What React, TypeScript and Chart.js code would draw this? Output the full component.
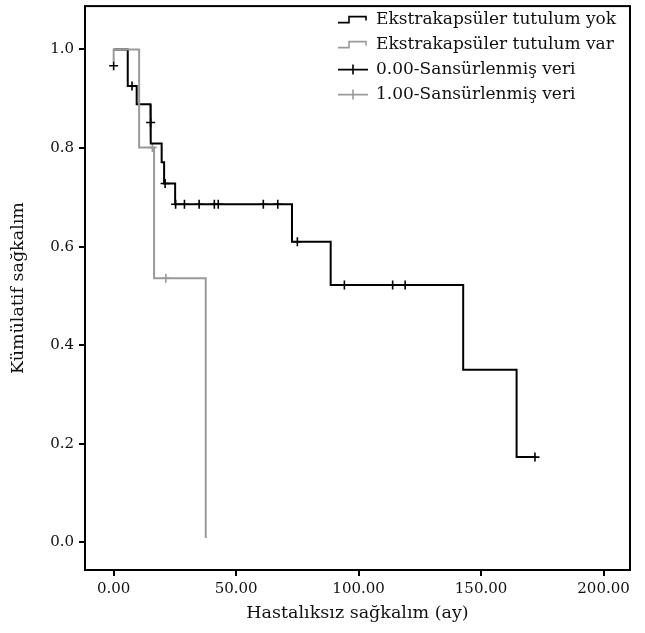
import React, { useEffect, useRef } from 'react';
import { Chart, registerables } from 'chart.js';

Chart.register(...registerables);

// ---- Data ----
const seriesNames = [
  'Ekstrakapsüler tutulum yok',
  'Ekstrakapsüler tutulum var',
  '0.00-Sansürlenmiş veri',
  '1.00-Sansürlenmiş veri',
];

// Group "yok" (black): event times and survival after each event
const yokTimes = [0, 5.75, 9.4, 15.0, 15.2, 19.6, 20.6, 25.1, 72.8, 88.6, 142.7, 164.5];
const yokSurv = [1.0, 0.926, 0.889, 0.852, 0.809, 0.771, 0.728, 0.686, 0.61, 0.522, 0.35, 0.173];
const yokEnd = 172.0;

// Group "var" (gray)
const varTimes = [0, 0, 10.4, 16.5, 37.6];
const varSurv = [0.975, 1.0, 0.801, 0.536, 0.009];

// Censored observations
const yokCensorTimes = [0, 7.5, 15.1, 21.0, 25.3, 28.9, 34.9, 41.1, 42.7, 61.1, 67.0, 75.0, 94.2, 113.9, 119.0, 172.0];
const yokCensorSurv = [0.967, 0.926, 0.852, 0.728, 0.686, 0.686, 0.686, 0.686, 0.686, 0.686, 0.686, 0.61, 0.522, 0.522, 0.522, 0.173];
const varCensorTimes = [15.8, 21.3];
const varCensorSurv = [0.801, 0.536];

const xTickValues = [0, 50, 100, 150, 200];
const xTickLabels = ['0.00', '50.00', '100.00', '150.00', '200.00'];
const yTickValues = [0, 0.2, 0.4, 0.6, 0.8, 1.0];
const yTickLabels = ['0.0', '0.2', '0.4', '0.6', '0.8', '1.0'];

const xAxisTitle = 'Hastalıksız sağkalım (ay)';
const yAxisTitle = 'Kümülatif sağkalım';

// ---- helpers ----
function stepPoints(times: number[], surv: number[], end?: number) {
  const pts: { x: number; y: number }[] = [{ x: times[0], y: surv[0] }];
  for (let i = 1; i < times.length; i++) {
    pts.push({ x: times[i], y: surv[i - 1] });
    pts.push({ x: times[i], y: surv[i] });
  }
  if (end !== undefined) pts.push({ x: end, y: surv[surv.length - 1] });
  return pts;
}
function zipPoints(xs: number[], ys: number[]) {
  return xs.map((x, i) => ({ x, y: ys[i] }));
}

const BLACK = '#000000';
const GRAY = '#9a9a9a';
const FONT = "'DejaVu Serif', 'Liberation Serif', serif";

const framePlugin = {
  id: 'frameAndLegend',
  afterDraw(chart: any) {
    const { ctx, chartArea: a } = chart;
    ctx.save();
    ctx.strokeStyle = BLACK;
    ctx.lineWidth = 2;
    ctx.strokeRect(a.left, a.top, a.right - a.left, a.bottom - a.top);

    // legend
    const symX = a.right - 292;
    const textX = a.right - 254;
    const rowY0 = a.top + 13.5;
    const rowH = 25;
    const colors = [BLACK, GRAY, BLACK, GRAY];
    ctx.font = `17px ${FONT}`;
    ctx.textBaseline = 'middle';
    ctx.textAlign = 'left';
    for (let i = 0; i < seriesNames.length; i++) {
      const y = rowY0 + rowH * i;
      ctx.strokeStyle = colors[i];
      ctx.lineWidth = 1.6;
      ctx.beginPath();
      if (i < 2) {
        ctx.moveTo(symX, y + 3);
        ctx.lineTo(symX + 11, y + 3);
        ctx.lineTo(symX + 11, y - 3);
        ctx.lineTo(symX + 28, y - 3);
        ctx.lineTo(symX + 28, y + 1);
      } else {
        ctx.moveTo(symX, y);
        ctx.lineTo(symX + 30, y);
        ctx.moveTo(symX + 15, y - 5);
        ctx.lineTo(symX + 15, y + 5);
      }
      ctx.stroke();
      ctx.fillStyle = '#111';
      ctx.fillText(seriesNames[i], textX, y);
    }
    ctx.restore();
  },
};

export default function App() {
  const canvasRef = useRef<HTMLCanvasElement | null>(null);

  useEffect(() => {
    if (!canvasRef.current) return;
    const chart = new Chart(canvasRef.current, {
      type: 'scatter',
      data: {
        datasets: [
          {
            type: 'line',
            label: seriesNames[1],
            data: stepPoints(varTimes, varSurv),
            borderColor: GRAY,
            borderWidth: 2,
            pointRadius: 0,
            showLine: true,
            tension: 0,
            fill: false,
          } as any,
          {
            type: 'line',
            label: seriesNames[0],
            data: stepPoints(yokTimes, yokSurv, yokEnd),
            borderColor: BLACK,
            borderWidth: 2,
            pointRadius: 0,
            showLine: true,
            tension: 0,
            fill: false,
          } as any,
          {
            label: seriesNames[2],
            data: zipPoints(yokCensorTimes, yokCensorSurv),
            pointStyle: 'cross',
            pointRadius: 4.5,
            pointBorderWidth: 1.6,
            borderColor: BLACK,
            backgroundColor: BLACK,
            showLine: false,
          } as any,
          {
            label: seriesNames[3],
            data: zipPoints(varCensorTimes, varCensorSurv),
            pointStyle: 'cross',
            pointRadius: 4.5,
            pointBorderWidth: 1.6,
            borderColor: GRAY,
            backgroundColor: GRAY,
            showLine: false,
          } as any,
        ],
      },
      options: {
        animation: false,
        responsive: false,
        maintainAspectRatio: false,
        events: [],
        layout: { padding: { left: 0, right: 15, top: 6, bottom: 0 } },
        plugins: {
          legend: { display: false },
          tooltip: { enabled: false },
        },
        scales: {
          x: {
            type: 'linear',
            min: -11.7,
            max: 210.8,
            afterFit: (s: any) => {
              s.height = 63;
              s.paddingLeft = 0;
              s.paddingRight = 0;
            },
            afterBuildTicks: (s: any) => {
              s.ticks = xTickValues.map((v) => ({ value: v }));
            },
            ticks: {
              padding: 4,
              color: '#111',
              font: { family: FONT, size: 15 },
              callback: (_v: any, i: number) => xTickLabels[i],
              maxRotation: 0,
              autoSkip: false,
            },
            grid: {
              drawOnChartArea: false,
              drawTicks: true,
              tickLength: 6,
              color: BLACK,
              lineWidth: 2,
            },
            border: { display: false },
            title: {
              display: true,
              text: xAxisTitle,
              color: '#111',
              font: { family: FONT, size: 17.5 },
              padding: { top: 0, bottom: 9.5 },
            },
          },
          y: {
            type: 'linear',
            min: -0.056,
            max: 1.088,
            afterFit: (s: any) => {
              s.width = 85;
              s.paddingTop = 0;
              s.paddingBottom = 0;
            },
            afterBuildTicks: (s: any) => {
              s.ticks = yTickValues.map((v) => ({ value: v }));
            },
            ticks: {
              padding: 5,
              color: '#111',
              font: { family: FONT, size: 15 },
              callback: (_v: any, i: number) => yTickLabels[i],
              autoSkip: false,
            },
            grid: {
              drawOnChartArea: false,
              drawTicks: true,
              tickLength: 6,
              color: BLACK,
              lineWidth: 2,
            },
            border: { display: false },
            title: {
              display: true,
              text: yAxisTitle,
              color: '#111',
              font: { family: FONT, size: 17.5 },
              padding: { top: 7.5, bottom: 0 },
            },
          },
        },
      },
      plugins: [framePlugin],
    } as any);
    return () => chart.destroy();
  }, []);

  return (
    <div style={{ position: 'fixed', left: 0, top: 0, width: 645, height: 633, background: '#fff' }}>
      <canvas ref={canvasRef} width={645} height={633} style={{ width: 645, height: 633 }} />
    </div>
  );
}
